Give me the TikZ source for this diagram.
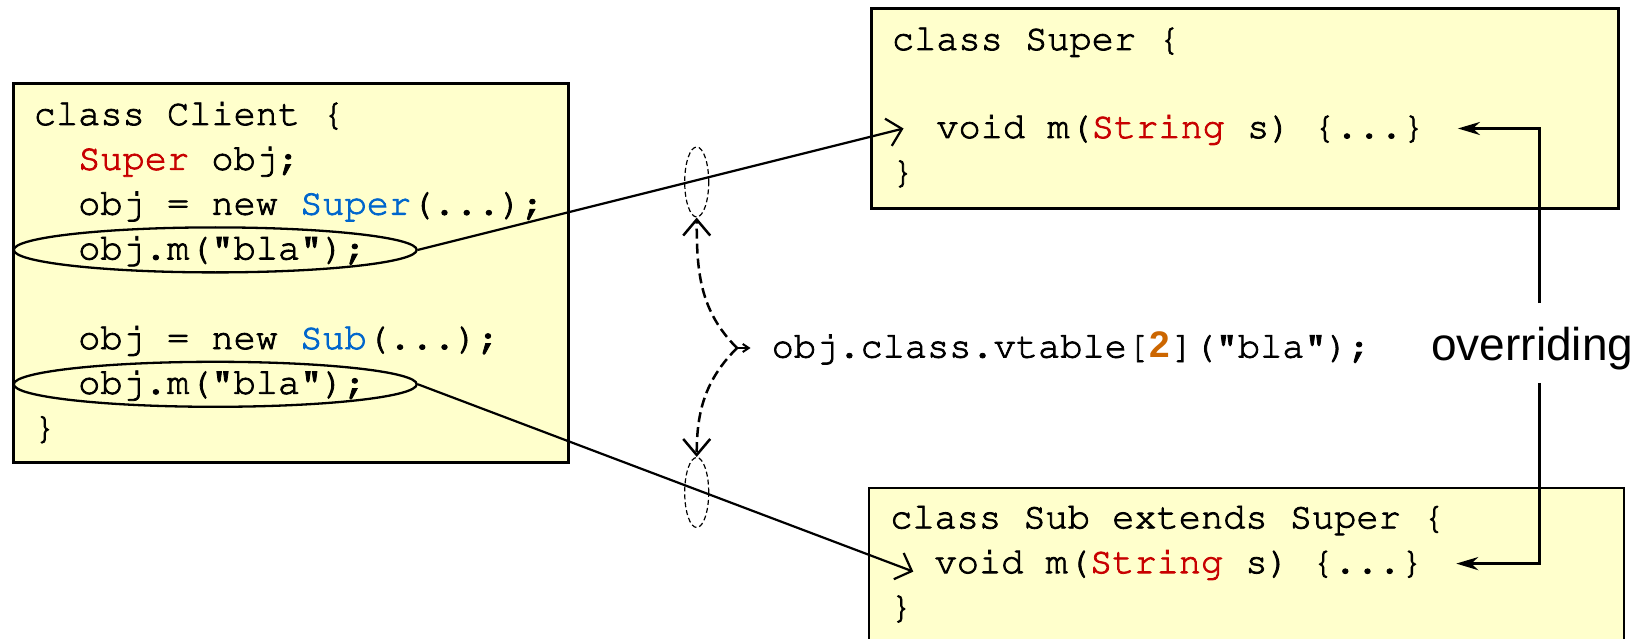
\documentclass[tikz,border=0pt]{standalone}
\usepackage{fontspec}
\setsansfont{Liberation Sans}
\usepackage{xcolor}
\usetikzlibrary{positioning,arrows.meta,shapes.geometric}

\definecolor{boxfill}{HTML}{FFFFCC}
\definecolor{typered}{HTML}{C80000}
\definecolor{typeblue}{HTML}{0066CC}
\definecolor{slotorange}{HTML}{CC6600}

% Courier, a little heavier (fill + thin outline)
\newcommand{\inkon}{\special{pdf:literal direct 2 Tr 0.8 w 0 0 0 RG}}
\newcommand{\codefont}{\fontencoding{T1}\fontfamily{pcr}\fontsize{37}{44.8}\selectfont\inkon}
\newcommand{\tred}[1]{\textcolor{typered}{#1}\inkon}
\newcommand{\tblue}[1]{\textcolor{typeblue}{#1}\inkon}
\newcommand{\ind}{\hspace*{1.2em}}

\begin{document}
\begin{tikzpicture}[x=1pt, y=1pt, node distance=44.8pt,
  every node/.style={font=\codefont},
  codebox/.style={draw, line width=2.6pt, fill=boxfill, anchor=north west, inner sep=0pt},
  codeline/.style={anchor=base west, inner sep=0pt, text height=27pt, text depth=8pt},
  nextline/.style={below=of #1.base west, anchor=base west},
  callout/.style={draw, ellipse, line width=2.3pt, minimum width=403pt, minimum height=45pt, inner sep=0pt, anchor=west},
  slot/.style={draw, ellipse, line width=1.2pt, dash pattern=on 5pt off 3pt, minimum width=24pt, minimum height=70pt, inner sep=0pt},
  call/.style={line width=2.2pt, -{Straight Barb[length=14pt,width=28pt]}},
  lookup/.style={line width=2.5pt, dash pattern=on 10pt off 5pt, -{Straight Barb[length=16pt,width=27pt]}},
  override/.style={line width=3pt, -{Stealth[length=22pt,width=13pt,inset=7pt]}, shorten >=33pt}]
\useasboundingbox (0,0) rectangle (1646,-639);
\clip (0,0) rectangle (1646,-639);

% boxes
\node[codebox, minimum width=555pt, minimum height=379pt] (client) at (12,-82) {};
\node[codebox, minimum width=747pt, minimum height=200pt] (super) at (870,-7.5) {};
\node[codebox, minimum width=755pt, minimum height=200pt] (sub) at (867.5,-486.5) {};

% class Client
\node[codeline] (cl1) at (33.6,-125) {class Client \{};
\node[codeline, nextline=cl1] (cl2) {\ind\tred{Super} obj;};
\node[codeline, nextline=cl2] (cl3) {\ind obj = new \tblue{Super}(...);};
\node[codeline, nextline=cl3] (cl4) {\ind obj.m("bla");};
\node[codeline, below=89.6pt of cl4.base west, anchor=base west] (cl5) {\ind obj = new \tblue{Sub}(...);};
\node[codeline, nextline=cl5] (cl6) {\ind obj.m("bla");};
\node[codeline, nextline=cl6] (cl7) {\}};

\node[callout] (e1) at ([xshift=-21pt]cl4.west) {};
\node[callout] (e2) at ([xshift=-21pt]cl6.west) {};

% class Super
\node[codeline] (sp1) at (891.7,-50) {class Super \{};
\node[codeline, below=88pt of sp1.base west, anchor=base west] (sp2) {\ind void m(\tred{String} s) \{...\}};
\node[codeline, nextline=sp2] (sp3) {\}};

% class Sub
\node[codeline] (sb1) at (890,-528.3) {class Sub extends Super \{};
\node[codeline, nextline=sb1] (sb2) {\ind void m(\tred{String} s) \{...\}};
\node[codeline, nextline=sb2] (sb3) {\}};

% dispatch through the vtable
\node[codeline] (vt) at (771.5,-357.5) {obj.class.vtable[\makebox[0.6em]{\normalfont\sffamily\bfseries\special{pdf:literal direct 0 Tr}\color{slotorange}2}\inkon]("bla");};
\node[slot] (slotsup) at (696.7,-182) {};
\node[slot] (slotsub) at (696.7,-492.5) {};
\coordinate[left=34.5pt of vt.west] (fork);

\node[font=\normalfont\sffamily\fontsize{46}{50}\selectfont, anchor=base, inner xsep=0pt, inner ysep=12.7pt,
      text height=44pt, text depth=10pt] (over) at (1532.3,-360) {overriding};

\draw[call] (e1.east) -- ([xshift=11.8pt]sp2.west);
\draw[call] (e2.east) -- ([xshift=23.3pt,yshift=-8pt]sb2.west);

\draw[lookup] (fork) to[out=135, in=-90] (slotsup.south);
\draw[lookup] (fork) to[out=-135, in=90] (slotsub.north);
\draw[line width=2pt, -{Straight Barb[length=6pt,width=8pt]}, shorten >=21pt] (fork) -- (vt.west);

\draw[override] ([xshift=7pt]over.north) |- (sp2.east);
\draw[override] ([xshift=7pt]over.south) |- (sb2.east);
\end{tikzpicture}
\end{document}
